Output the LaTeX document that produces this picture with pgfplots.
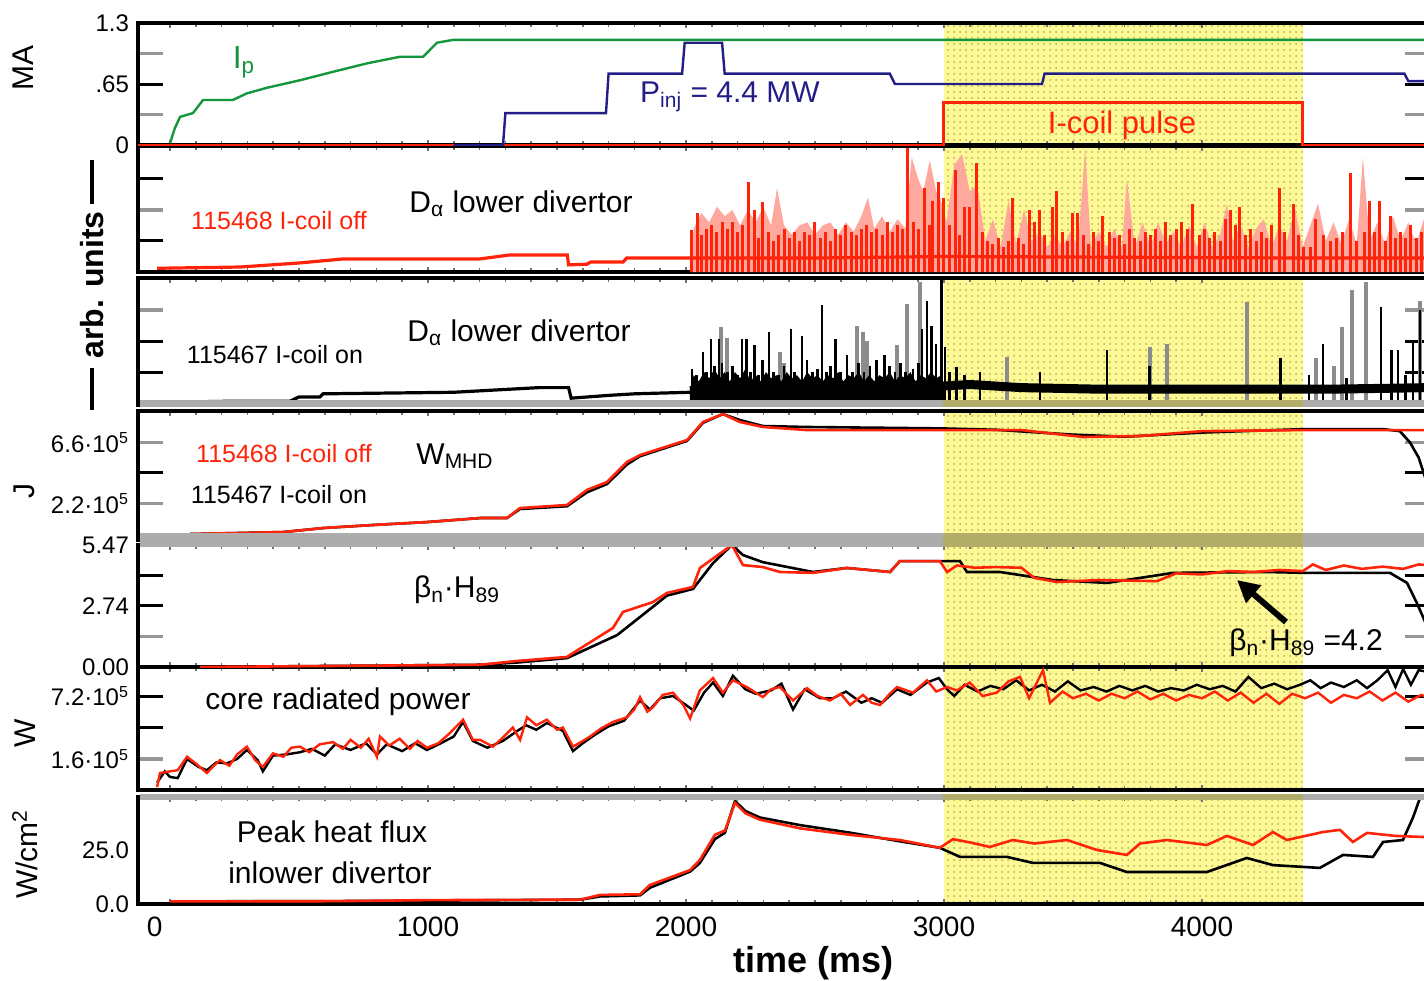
\documentclass[border=0pt]{standalone}
\usepackage{pgfplots}
\pgfplotsset{compat=1.18}
\usepackage{fontspec}
\setmainfont{Liberation Sans}
\usetikzlibrary{arrows.meta,patterns}
\definecolor{pr}{RGB}{255,35,10}
\definecolor{pk}{RGB}{255,168,158}
\definecolor{ipg}{RGB}{20,150,60}
\definecolor{nv}{RGB}{35,30,135}
\definecolor{yel}{RGB}{253,249,150}
\definecolor{ydot}{RGB}{185,175,85}
\definecolor{gt}{RGB}{150,150,150}
\definecolor{gb}{RGB}{172,172,172}
\definecolor{gc}{RGB}{140,140,140}
\definecolor{ol}{RGB}{178,172,105}
\pgfplotsset{
  panel/.style={
    set layers, scale only axis, width=646pt, anchor=north west,
    xmin=-124, xmax=4884,
    axis line style={line width=1.6pt},
    tick align=inside,
    major tick length=12.5pt, minor tick length=12.5pt,
    xtick={0,1000,2000,3000,4000}, minor x tick num=9, xticklabels={},
    xtick style={/pgfplots/major tick length=2.5pt, /pgfplots/minor tick length=2pt, black!55, line width=0.8pt},
    every major y tick/.append style={black, line width=1.5pt},
    every minor y tick/.append style={gt, line width=1.6pt},
    yticklabels={},
    extra y tick style={major tick length=0pt, major tick style={draw=none}},
    ticklabel style={font=\fontsize{12}{12}\selectfont},
    yticklabel style={xshift=-1pt},
  },
  yl/.style={on layer=axis background, draw=none, fill=yel, postaction={pattern=dots, pattern color=ydot}},
}
\begin{document}
\begin{tikzpicture}

% ---------- Panel 1 ----------
\begin{axis}[panel, at={(69pt,-11.5pt)}, height=61pt, ymin=0, ymax=1.3,
  ytick={0.65}, minor ytick={0.325,0.975},
  extra y ticks={0,0.65,1.3}, extra y tick labels={0,.65,1.3}]
\addplot[yl] coordinates {(3000,0)(4391,0)(4391,1.3)(3000,1.3)} -- cycle;
\addplot[pr, line width=1.5pt] coordinates {(-124,0)(3000,0)(3000,0.45)(4391,0.45)(4391,0)(4884,0)};
\addplot[nv, line width=1.2pt] coordinates {(1100,0)(1291,0)(1300,0.34)(1690,0.34)(1700,0.76)(1985,0.76)(1995,1.09)(2140,1.09)(2150,0.76)(2790,0.76)(2810,0.65)(3380,0.65)(3390,0.76)(4785,0.76)(4800,0.68)(4884,0.68)};
\addplot[ipg, line width=1.2pt] coordinates {(0,0.02)(19,0.18)(39,0.30)(89,0.34)(128,0.48)(244,0.48)(298,0.55)(376,0.61)(504,0.69)(632,0.78)(764,0.87)(891,0.94)(981,0.94)(1035,1.09)(1097,1.12)(4884,1.12)};
\end{axis}

% ---------- Panel 2 ----------
\begin{axis}[panel, at={(69pt,-73pt)}, height=63pt, ymin=0, ymax=4.06,
  ytick={1,3}, minor ytick={2}]
\addplot[yl] coordinates {(3000,0)(4391,0)(4391,4.06)(3000,4.06)} -- cycle;
\addplot[draw=none, fill=pk] coordinates {(2015,0.45)(2030,1.4)(2060,1.9)(2090,1.6)(2120,2.1)(2150,1.8)(2180,2.0)(2210,1.5)(2240,2.0)(2270,1.6)(2300,2.1)(2330,1.5)(2353,2.7)(2380,1.5)(2410,1.2)(2440,1.5)(2470,1.6)(2500,1.2)(2530,1.5)(2560,1.6)(2590,1.2)(2620,1.6)(2650,1.3)(2680,1.8)(2705,2.4)(2730,1.4)(2760,1.8)(2790,1.3)(2820,1.7)(2850,1.4)(2875,3.7)(2900,3.0)(2920,2.6)(2945,3.6)(2970,2.6)(2985,2.4)(3010,1.6)(3040,3.45)(3070,3.8)(3100,2.6)(3130,2.8)(3160,1.0)(3190,1.7)(3220,0.8)(3250,2.3)(3280,0.9)(3310,2.0)(3340,1.0)(3370,1.3)(3400,0.8)(3430,1.2)(3460,0.8)(3490,1.3)(3520,0.8)(3547,4.0)(3570,0.8)(3600,1.3)(3630,0.8)(3660,1.4)(3690,0.8)(3709,3.0)(3740,0.8)(3770,1.6)(3800,0.8)(3830,1.6)(3860,0.9)(3890,1.3)(3920,0.8)(3950,1.5)(3980,0.8)(4010,1.6)(4040,0.8)(4070,1.2)(4097,2.2)(4120,1.0)(4150,1.5)(4180,0.8)(4210,1.4)(4240,1.7)(4270,0.8)(4300,1.5)(4330,1.0)(4360,2.1)(4390,0.8)(4420,1.5)(4450,2.2)(4480,1.0)(4510,1.6)(4540,0.9)(4570,1.7)(4600,0.9)(4624,3.7)(4650,1.0)(4680,1.6)(4710,0.9)(4740,1.8)(4770,1.0)(4800,1.6)(4830,0.9)(4860,1.7)(4884,1.5)} \closedcycle;
\addplot[pr, ycomb, line width=1.5pt] coordinates {(2020,1.35)(2043,1.9)(2060,1.2)(2080,1.4)(2100,1.5)(2120,1.3)(2140,1.6)(2160,1.4)(2180,1.6)(2200,1.3)(2220,1.5)(2244,2.9)(2267,2.0)(2280,1.1)(2298,2.26)(2320,1.3)(2340,1.0)(2360,1.2)(2380,1.4)(2400,1.1)(2420,1.3)(2440,1.0)(2460,1.3)(2480,1.2)(2500,1.6)(2520,1.1)(2540,1.3)(2560,1.0)(2580,1.4)(2600,1.2)(2620,1.5)(2640,1.3)(2660,1.2)(2680,1.4)(2700,1.5)(2720,1.3)(2740,1.4)(2760,1.2)(2780,1.6)(2800,1.3)(2820,1.5)(2840,1.4)(2860,4.0)(2880,1.6)(2900,1.4)(2926,2.7)(2945,1.5)(2957,2.3)(2977,2.9)(3000,2.4)(3020,1.5)(3043,3.3)(3060,1.2)(3080,2.1)(3100,2.1)(3128,3.5)(3150,1.3)(3170,1.0)(3190,0.9)(3210,1.1)(3230,0.8)(3250,1.0)(3267,2.4)(3290,1.1)(3310,0.9)(3333,2.0)(3350,1.6)(3370,2.0)(3390,1.2)(3419,2.1)(3438,2.6)(3460,1.3)(3480,1.0)(3500,1.9)(3516,1.9)(3540,1.2)(3560,0.9)(3580,1.3)(3600,1.0)(3616,1.8)(3640,1.3)(3660,1.1)(3680,1.2)(3700,0.9)(3720,1.4)(3740,1.1)(3760,1.0)(3780,1.3)(3800,1.2)(3820,1.4)(3840,1.0)(3860,1.6)(3880,1.2)(3900,1.4)(3920,1.6)(3945,1.4)(3965,2.2)(3990,1.2)(4010,1.4)(4030,1.1)(4050,1.3)(4070,1.0)(4090,1.7)(4109,2.0)(4130,1.5)(4147,2.1)(4170,1.2)(4190,1.4)(4210,1.0)(4230,1.3)(4250,1.1)(4270,1.5)(4302,2.7)(4320,1.3)(4353,2.2)(4375,1.2)(4395,0.8)(4420,0.8)(4440,1.7)(4470,1.2)(4500,1.0)(4520,1.1)(4545,1.3)(4574,3.2)(4600,1.0)(4630,1.3)(4651,2.3)(4670,1.3)(4690,2.3)(4710,1.0)(4729,1.8)(4750,1.1)(4770,1.3)(4790,1.1)(4810,1.5)(4830,1.1)(4850,1.3)(4870,1.2)};
\addplot[pr, line width=1.6pt] coordinates {(-50,0.12)(270,0.16)(500,0.29)(670,0.42)(1200,0.42)(1318,0.55)(1540,0.55)(1545,0.23)(1616,0.25)(1630,0.32)(1756,0.32)(1770,0.45)(2015,0.45)(2500,0.45)(3000,0.5)(4391,0.45)(4884,0.45)};
\end{axis}

% ---------- Panel 3 ----------
\begin{axis}[panel, at={(69pt,-139pt)}, height=63.5pt, ymin=-0.06, ymax=4.03,
  ytick={1,2}, minor ytick={3}]
\addplot[yl] coordinates {(3000,-0.06)(4391,-0.06)(4391,4.03)(3000,4.03)} -- cycle;
\addplot[gc, ycomb, line width=2pt] coordinates {(2135,2.45)(2160,2.1)(2364,1.65)(2380,1.3)(2663,2.5)(2686,2.3)(2700,2.0)(2818,1.87)(2857,3.2)(2907,3.9)(3244,1.5)(3798,1.8)(3864,1.9)(4174,3.25)(4442,1.45)(4510,1.2)(4543,2.45)(4581,3.65)(4636,3.9)(4845,3.3)};
\addplot[draw=none, fill=black] coordinates {(2015,0.35)(2030,0.9)(2050,0.7)(2070,1.0)(2090,0.8)(2110,1.1)(2130,0.8)(2150,1.0)(2170,0.7)(2190,1.0)(2210,0.8)(2230,1.1)(2250,0.7)(2270,0.9)(2290,0.7)(2310,1.0)(2330,0.8)(2350,0.9)(2370,0.7)(2390,1.0)(2410,0.8)(2430,0.9)(2450,0.7)(2470,1.0)(2490,0.8)(2510,0.9)(2530,0.7)(2550,0.9)(2570,0.8)(2590,1.0)(2610,0.7)(2630,0.9)(2650,0.8)(2670,1.0)(2690,0.7)(2710,0.9)(2730,0.7)(2750,0.9)(2770,0.8)(2790,1.0)(2810,0.7)(2830,0.9)(2850,0.8)(2870,1.0)(2890,0.7)(2910,0.9)(2930,0.8)(2950,1.0)(2970,0.8)(2990,0.9)(3000,0.6)} \closedcycle;
\addplot[black, ycomb, line width=1.4pt] coordinates {(2023,1.1)(2040,0.9)(2066,1.65)(2080,1.0)(2097,2.06)(2110,1.2)(2128,2.06)(2140,1.3)(2160,1.0)(2180,1.2)(2200,0.9)(2217,2.06)(2236,2.06)(2250,1.0)(2267,1.87)(2280,0.9)(2298,1.4)(2322,2.3)(2340,1.0)(2360,0.9)(2380,1.2)(2407,2.4)(2420,1.0)(2450,2.16)(2469,1.4)(2490,1.0)(2510,1.1)(2527,3.15)(2545,1.0)(2560,1.2)(2581,2.06)(2600,1.0)(2624,1.55)(2645,1.0)(2670,1.3)(2690,1.0)(2713,1.2)(2740,1.4)(2771,1.55)(2790,1.2)(2810,1.0)(2830,1.3)(2850,1.0)(2880,1.1)(2900,1.3)(2915,2.4)(2934,3.3)(2953,2.5)(2969,1.9)(2992,3.97)(3004,1.8)(3020,1.0)(3050,1.16)(3080,0.9)(3140,1.0)(3372,1.0)(3632,1.7)(3798,1.2)(4306,1.45)(4415,0.9)(4469,1.9)(4560,0.8)(4694,3.1)(4736,1.7)(4760,1.7)(4790,0.9)(4818,2.0)(4845,3.0)(4870,1.2)};
\addplot[black, line width=1.6pt] coordinates {(0,0.03)(221,0.06)(465,0.06)(500,0.2)(581,0.2)(593,0.3)(1100,0.35)(1430,0.5)(1545,0.5)(1555,0.16)(1700,0.25)(1800,0.3)(2015,0.35)};
\addplot[black, line width=4.5pt] coordinates {(2015,0.4)(2500,0.55)(3000,0.55)(3100,0.6)(3300,0.5)(3600,0.45)(4000,0.45)(4391,0.45)(4500,0.45)(4884,0.5)};
\end{axis}

% ---------- Panel 4 ----------
\begin{axis}[panel, at={(69pt,-205.5pt)}, height=64.5pt, ymin=-0.43, ymax=8.85,
  ytick={4.4}, minor ytick={2.2,6.6},
  extra y ticks={2.2,6.6}, extra y tick labels={2.2·10\textsuperscript{5},6.6·10\textsuperscript{5}}]
\addplot[yl] coordinates {(3000,-0.43)(4391,-0.43)(4391,8.85)(3000,8.85)} -- cycle;
\addplot[black, line width=1.3pt] coordinates {(78,0)(438,0.14)(593,0.43)(787,0.65)(996,0.86)(1202,1.15)(1306,1.15)(1357,1.8)(1539,2.0)(1616,3.0)(1694,3.6)(1771,5.0)(1822,5.6)(2004,6.7)(2066,8.0)(2143,8.63)(2209,8.2)(2298,7.77)(2469,7.7)(2984,7.6)(3200,7.5)(3500,7.15)(3700,7.0)(4000,7.3)(4400,7.55)(4700,7.55)(4767,7.4)(4806,6.6)(4840,5.5)(4884,3.0)};
\addplot[pr, line width=1.3pt] coordinates {(78,0)(438,0.14)(593,0.43)(787,0.65)(996,0.86)(1202,1.15)(1306,1.15)(1357,1.87)(1539,2.09)(1616,3.17)(1694,3.74)(1771,5.18)(1822,5.68)(2004,6.76)(2066,8.06)(2143,8.63)(2209,8.06)(2298,7.70)(2469,7.48)(2984,7.48)(3300,7.48)(3539,6.98)(3760,7.05)(4000,7.4)(4400,7.48)(4884,7.48)};
\end{axis}

% ---------- Panel 5 ----------
\begin{axis}[panel, at={(69pt,-272.5pt)}, height=61pt, ymin=0, ymax=5.47,
  ytick={2.74,4.10}, minor ytick={1.37},
  extra y ticks={0,2.74,5.47}, extra y tick labels={0.00,2.74,5.47}]
\addplot[yl] coordinates {(3000,0)(4391,0)(4391,5.47)(3000,5.47)} -- cycle;
\addplot[black, line width=1.3pt] coordinates {(116,0)(1202,0.1)(1345,0.2)(1539,0.4)(1733,1.43)(1872,2.7)(1926,3.2)(2027,3.5)(2105,4.66)(2178,5.47)(2221,5.02)(2298,4.7)(2492,4.26)(2624,4.44)(2791,4.26)(2829,4.75)(2984,4.75)(3062,4.75)(3089,4.26)(3217,4.26)(3422,3.9)(3632,3.77)(3888,4.22)(4252,4.26)(4407,4.22)(4729,4.22)(4795,3.77)(4833,2.87)(4857,2.24)(4884,1.5)};
\addplot[pr, line width=1.3pt] coordinates {(116,0)(1202,0.1)(1345,0.27)(1539,0.45)(1550,0.54)(1717,1.75)(1756,2.47)(1872,2.91)(1926,3.32)(2027,3.59)(2054,4.44)(2178,5.47)(2221,4.57)(2298,4.48)(2364,4.26)(2492,4.22)(2624,4.44)(2791,4.26)(2829,4.75)(2984,4.75)(3012,4.26)(3050,4.55)(3120,4.45)(3200,4.48)(3300,4.45)(3350,4.0)(3438,3.81)(3600,3.9)(3826,3.85)(3900,4.2)(4000,4.15)(4100,4.3)(4200,4.26)(4300,4.35)(4391,4.3)(4430,4.6)(4480,4.35)(4550,4.55)(4620,4.4)(4700,4.5)(4780,4.4)(4840,4.6)(4884,4.55)};
\end{axis}

% ---------- Panel 6 ----------
\begin{axis}[panel, at={(69pt,-333.5pt)}, height=61.5pt, ymin=-1.16, ymax=9.78,
  ytick={4.4,7.2}, minor ytick={1.6},
  extra y ticks={1.6,7.2}, extra y tick labels={1.6·10\textsuperscript{5},7.2·10\textsuperscript{5}}]
\addplot[yl] coordinates {(3000,-1.16)(4391,-1.16)(4391,9.78)(3000,9.78)} -- cycle;
\addplot[black, line width=1.2pt] coordinates {(-50,-0.5)(-20,0.5)(0,0)(30,-0.1)(66,1.6)(110,0.9)(143,0.6)(180,1.3)(220,1.2)(260,1.6)(298,2.4)(340,1.5)(360,0.5)(399,1.9)(450,2.0)(504,2.2)(550,2.5)(600,1.9)(640,2.9)(700,2.4)(760,3.0)(802,2.0)(840,2.9)(900,2.3)(950,3.0)(996,2.4)(1050,3.0)(1100,3.6)(1136,4.9)(1174,3.2)(1230,2.6)(1290,3.2)(1340,4.0)(1380,4.6)(1420,4.2)(1461,4.8)(1523,4.1)(1562,2.3)(1600,3.0)(1650,3.8)(1700,4.5)(1760,5.0)(1822,6.8)(1860,6.0)(1900,7.0)(1950,7.2)(2000,6.4)(2030,5.9)(2070,7.5)(2105,8.4)(2143,7.2)(2182,9.0)(2230,7.8)(2270,7.4)(2330,7.7)(2370,8.3)(2415,6.0)(2460,7.8)(2520,7.0)(2570,7.0)(2620,7.6)(2680,6.6)(2720,7.0)(2760,6.6)(2818,7.8)(2870,7.3)(2934,8.4)(2980,8.8)(3012,7.8)(3040,7.2)(3080,8.2)(3130,7.6)(3180,8.1)(3230,7.8)(3280,8.6)(3330,7.7)(3380,8.2)(3430,7.6)(3480,8.5)(3530,7.7)(3580,8.0)(3630,7.6)(3680,8.1)(3730,7.7)(3780,8.1)(3830,7.6)(3880,7.9)(3930,7.7)(3980,8.2)(4030,7.8)(4080,8.1)(4130,7.6)(4180,8.9)(4230,7.9)(4280,8.3)(4330,7.8)(4380,8.2)(4420,8.6)(4460,7.9)(4500,8.4)(4550,8.0)(4600,8.6)(4640,7.9)(4680,8.6)(4720,9.5)(4750,8.0)(4780,9.6)(4810,8.2)(4840,9.5)(4884,9.3)};
\addplot[pr, line width=1.2pt] coordinates {(-50,-0.9)(-39,0.35)(0,0.5)(30,0.6)(66,1.8)(100,1.2)(143,0.35)(170,1.0)(194,1.5)(230,1.0)(260,2.0)(298,2.7)(330,1.5)(360,0.9)(399,2.1)(440,1.8)(470,2.6)(504,2.7)(540,2.2)(580,2.9)(632,3.1)(670,2.5)(700,3.3)(740,2.6)(770,3.4)(802,1.8)(814,3.6)(850,2.8)(890,3.4)(930,2.5)(960,3.2)(996,2.6)(1040,3.0)(1080,3.8)(1136,5.1)(1174,3.3)(1202,3.3)(1252,2.7)(1290,3.5)(1329,4.4)(1357,3.3)(1384,5.3)(1420,4.6)(1461,5.1)(1500,4.2)(1523,4.4)(1562,2.7)(1600,3.2)(1628,3.6)(1670,4.3)(1717,4.9)(1771,5.3)(1800,6.0)(1822,7.1)(1850,5.8)(1872,6.2)(1910,7.3)(1950,7.5)(1990,6.4)(2016,5.2)(2054,7.7)(2105,8.8)(2143,7.5)(2182,8.6)(2236,8.0)(2270,7.5)(2298,7.1)(2330,7.8)(2364,8.0)(2415,6.8)(2469,7.9)(2510,7.2)(2558,6.8)(2600,7.4)(2636,6.4)(2686,7.3)(2720,6.6)(2752,6.4)(2790,7.4)(2818,8.0)(2880,7.5)(2934,8.6)(2970,7.6)(3012,8.0)(3050,7.7)(3100,8.4)(3150,7.2)(3205,7.5)(3250,8.5)(3295,8.9)(3330,7.0)(3384,9.5)(3411,6.6)(3460,7.6)(3500,7.0)(3550,7.4)(3600,6.8)(3650,7.4)(3700,7.0)(3750,7.6)(3800,6.9)(3850,7.4)(3900,6.8)(3950,7.3)(4000,7.0)(4050,7.6)(4100,6.8)(4150,7.5)(4200,6.6)(4250,7.4)(4300,6.5)(4350,7.4)(4400,7.0)(4450,7.5)(4500,6.6)(4550,7.3)(4600,7.0)(4650,7.6)(4700,6.8)(4750,7.5)(4800,6.7)(4850,7.3)(4884,7.0)};
\end{axis}

% ---------- Panel 7 ----------
\begin{axis}[panel, at={(69pt,-398.5pt)}, height=53.5pt, ymin=0, ymax=49.5,
  ytick=\empty, minor ytick={12.5,25,37.5},
  extra y ticks={0,25}, extra y tick labels={0.0,25.0},
  xticklabels={\rlap{\kern-11.5pt 0},1000,2000,3000,4000},
  xticklabel style={font=\fontsize{14}{14}\selectfont, yshift=-3pt},
  xlabel={\bfseries time (ms)},
  xlabel style={font=\fontsize{18}{18}\selectfont, yshift=2pt, xshift=15pt}]
\addplot[yl] coordinates {(3000,0)(4391,0)(4391,49.5)(3000,49.5)} -- cycle;
\addplot[black, line width=1.3pt] coordinates {(0,1.2)(800,1.4)(1589,2.0)(1667,3.5)(1822,4.0)(1860,7.5)(2016,15)(2054,19)(2112,30)(2151,33)(2190,47.7)(2230,43)(2287,40)(2442,36.5)(2636,33)(2829,29)(2984,26)(3062,21.8)(3244,21.8)(3345,19)(3605,19)(3709,14.8)(4019,14.8)(4174,21.3)(4275,18)(4457,16.7)(4547,22.7)(4663,21.8)(4702,28.7)(4779,29.6)(4818,40)(4845,49)(4884,52)};
\addplot[pr, line width=1.3pt] coordinates {(0,1.2)(600,1.3)(800,1.5)(1000,1.8)(1589,2.0)(1667,4.2)(1822,4.5)(1860,8.8)(2016,15.7)(2054,20.4)(2112,32)(2151,34)(2190,46.8)(2230,42)(2287,39)(2442,35)(2636,32)(2829,29.6)(2984,26)(3035,30)(3100,28.5)(3178,26.4)(3267,29.6)(3350,28)(3477,29.6)(3593,25)(3709,22.7)(3760,28)(3864,29.6)(4019,27.3)(4097,31.5)(4198,27.3)(4275,33.3)(4329,29.6)(4469,33.3)(4535,34.3)(4585,28.7)(4640,32.9)(4750,31.5)(4857,31)(4884,31)};
\end{axis}

% ---------- boundary bands ----------
\draw[gb, line width=3.5pt] (70pt,-201.75pt) -- (471.5pt,-201.75pt);
\draw[ol, line width=3.5pt] (471.5pt,-201.75pt) -- (651.5pt,-201.75pt);
\draw[gb, line width=3.5pt] (651.5pt,-201.75pt) -- (712pt,-201.75pt);
\draw[gb, line width=7pt] (70pt,-270pt) -- (471.5pt,-270pt);
\draw[ol, line width=7pt] (471.5pt,-270pt) -- (651.5pt,-270pt);
\draw[gb, line width=7pt] (651.5pt,-270pt) -- (712pt,-270pt);
\draw[gb, line width=3pt] (70pt,-398.5pt) -- (471.5pt,-398.5pt);
\draw[ol, line width=3pt] (471.5pt,-398.5pt) -- (651.5pt,-398.5pt);
\draw[gb, line width=3pt] (651.5pt,-398.5pt) -- (712pt,-398.5pt);

% ---------- axis titles ----------
\node[rotate=90, font=\fontsize{15}{15}\selectfont] at (11.5pt,-34pt) {MA};
\node[rotate=90, font=\fontsize{16}{16}\selectfont\bfseries] at (46pt,-142.5pt) {arb. units};
\draw[line width=2.2pt] (46pt,-80pt) -- (46pt,-102pt);
\draw[line width=2.2pt] (46pt,-184pt) -- (46pt,-205pt);
\node[rotate=90, font=\fontsize{15}{15}\selectfont] at (12pt,-245.5pt) {J};
\node[rotate=90, font=\fontsize{15}{15}\selectfont] at (12.5pt,-366.5pt) {W};
\node[rotate=90, font=\fontsize{15}{15}\selectfont] at (12.5pt,-427pt) {W/cm\textsuperscript{2}};

% ---------- in-panel texts ----------
\node[ipg, font=\fontsize{16}{16}\selectfont] at (122pt,-31pt) {I\textsubscript{p}};
\node[nv, font=\fontsize{15}{15}\selectfont] at (365pt,-48.5pt) {P\textsubscript{inj} = 4.4 MW};
\node[pr, font=\fontsize{15.5}{15.5}\selectfont] at (561pt,-62.5pt) {I-coil pulse};
\node[pr, font=\fontsize{12.5}{12.5}\selectfont] at (139.5pt,-110.5pt) {115468 I-coil off};
\node[font=\fontsize{15}{15}\selectfont] at (260.5pt,-102pt) {D\textsubscript{α} lower divertor};
\node[font=\fontsize{12.5}{12.5}\selectfont] at (137.5pt,-177.5pt) {115467 I-coil on};
\node[font=\fontsize{15}{15}\selectfont] at (259.5pt,-166.5pt) {D\textsubscript{α} lower divertor};
\node[pr, font=\fontsize{12.5}{12.5}\selectfont] at (142pt,-227pt) {115468 I-coil off};
\node[font=\fontsize{12.5}{12.5}\selectfont] at (139.5pt,-247.5pt) {115467 I-coil on};
\node[font=\fontsize{15}{15}\selectfont] at (227.5pt,-228pt) {W\textsubscript{MHD}};
\node[font=\fontsize{15}{15}\selectfont] at (228.5pt,-295pt) {β\textsubscript{n}·H\textsubscript{89}};
\node[font=\fontsize{15}{15}\selectfont] at (653pt,-321.5pt) {β\textsubscript{n}·H\textsubscript{89} =4.2};
\draw[line width=3pt, -{Triangle[length=11pt, width=11pt]}] (643pt,-311pt) -- (618.5pt,-290pt);
\node[font=\fontsize{15}{15}\selectfont] at (169pt,-351pt) {core radiated power};
\node[font=\fontsize{15}{15}\selectfont] at (166pt,-416pt) {Peak heat flux};
\node[font=\fontsize{15}{15}\selectfont] at (165pt,-436.5pt) {inlower divertor};

\pgfresetboundingbox
\path[use as bounding box] (0,0) rectangle (712pt,-490pt);
\end{tikzpicture}
\end{document}
